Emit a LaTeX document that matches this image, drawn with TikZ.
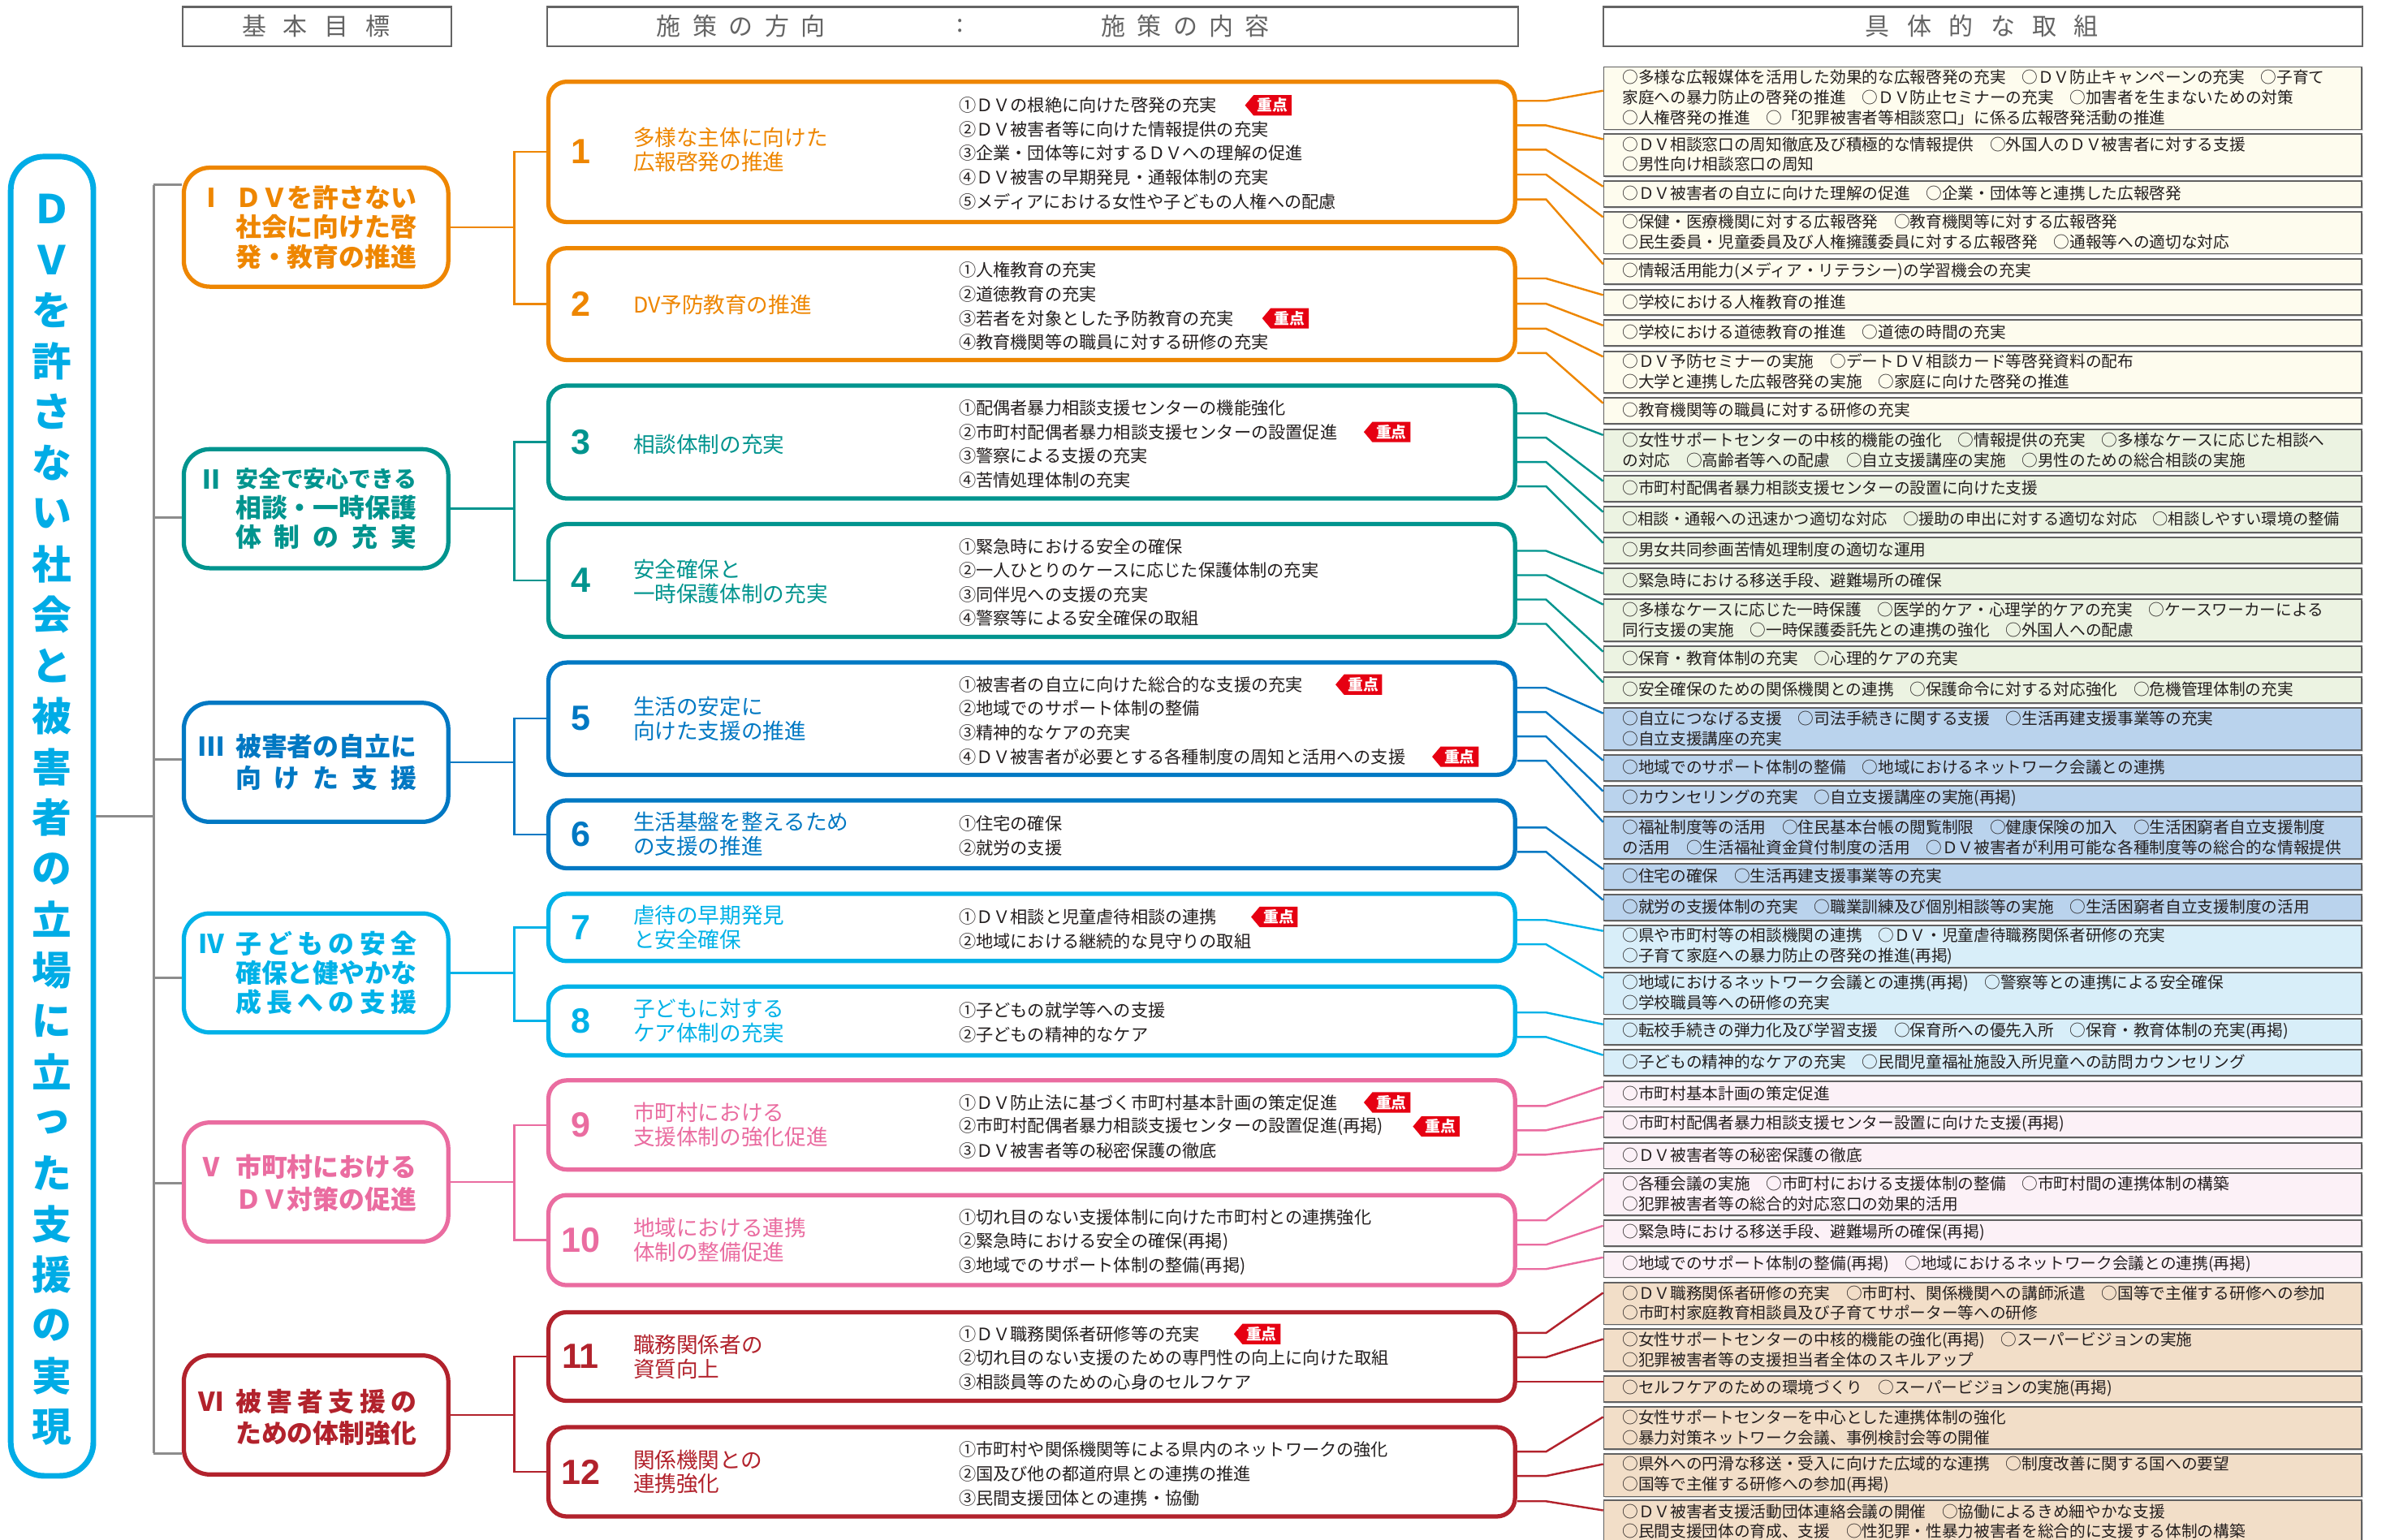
\documentclass[tikz,border=0pt]{standalone}
\usepackage{fontspec}
\setmainfont{Noto Sans CJK JP}
\newfontfamily\numfont{Liberation Sans}
\usetikzlibrary{shapes.symbols,shadows}
\definecolor{cO}{RGB}{238,134,0}
\definecolor{cT}{RGB}{0,148,142}
\definecolor{cB}{RGB}{0,120,195}
\definecolor{cC}{RGB}{0,178,232}
\definecolor{cP}{RGB}{234,108,160}
\definecolor{cR}{RGB}{178,34,44}
\definecolor{cMain}{RGB}{0,172,230}
\definecolor{fO}{RGB}{254,252,238}
\definecolor{fT}{RGB}{236,243,226}
\definecolor{fB}{RGB}{186,211,237}
\definecolor{fC}{RGB}{216,238,249}
\definecolor{fP}{RGB}{252,241,247}
\definecolor{fR}{RGB}{242,222,200}
\definecolor{jred}{RGB}{230,0,18}
\definecolor{hgray}{RGB}{100,100,100}
\definecolor{tgray}{RGB}{140,140,140}
\definecolor{txt}{RGB}{35,30,30}
\tikzset{
 hdr/.style={draw=hgray, line width=1.2pt, minimum height=26pt, inner sep=0pt, fill=white, anchor=north west},
 hdrtext/.style={text=hgray, font=\fontsize{16}{16}\selectfont, inner sep=0pt},
 mainbox/.style={draw=cMain, line width=3.7pt, rounded corners=22pt, fill=white, minimum width=54.3pt, minimum height=867pt, inner sep=0pt},
 vchar/.style={text=cMain, font=\bfseries\fontsize{26}{26}\selectfont, inner sep=0pt},
 gbox/.style={line width=2.8pt, rounded corners=17pt, fill=white, minimum width=173.8pt, minimum height=78.2pt, inner sep=0pt},
 gtext/.style={font=\bfseries\fontsize{17}{19.3}\selectfont, align=left, inner sep=0pt, anchor=west},
 gtext2/.style={font=\bfseries\fontsize{17}{21}\selectfont, align=left, inner sep=0pt, anchor=west},
 gnum/.style={font=\bfseries\fontsize{17}{17}\selectfont, inner sep=0pt},
 pbox/.style={line width=2.8pt, rounded corners=12pt, fill=white, minimum width=635.2pt, inner sep=0pt},
 pnum/.style={font=\numfont\bfseries\fontsize{23}{23}\selectfont, inner sep=0pt},
 ptitle/.style={font=\fontsize{14.2}{16}\selectfont, align=left, inner sep=0pt, anchor=west},
 item/.style={font=\fontsize{11.3}{11.3}\selectfont, text=txt, inner sep=0pt, anchor=west},
 badge/.style={shape=signal, signal to=west, signal pointer angle=100, fill=jred, text=white, font=\bfseries\fontsize{10}{10}\selectfont, inner xsep=2.5pt, inner ysep=1.2pt, minimum height=13.4pt, anchor=west},
 rowbox/.style={draw=black!62, line width=0.9pt, minimum width=498pt, inner sep=0pt, anchor=north west, drop shadow={shadow xshift=0.9pt, shadow yshift=-0.9pt, fill=black!28}},
 rowtext/.style={font=\fontsize{10.5}{13.3}\selectfont, text=txt, align=left, inner sep=0pt, anchor=west},
 gline/.style={draw=tgray, line width=1.6pt},
 conn/.style={line width=1.3pt},
}
\newcommand\rw[5]{\node[rowbox, fill=#4, minimum height=#3pt] (r#1) at (1053.5,#2) {};
  \node[rowtext] (t#1) at (1066,{#2+#3/2}) {#5};}
\newcommand\cn[5]{\draw[conn,#1] (#2.east |- 0,#3) -- ++(19,0) -- ([yshift=-#5pt]#4.north west);}
\begin{document}
\begin{tikzpicture}[x=1pt,y=-1pt]
\fill[white] (0,0) rectangle (1568,1012);
\useasboundingbox (0,0) rectangle (1568,1012);
% headers
\node[hdr, minimum width=176.6pt] (h1) at (119.4,3.9) {};
\node[hdrtext] (h1t) at (207.7,17) {基\hspace{11pt}本\hspace{11pt}目\hspace{11pt}標};
\node[hdr, minimum width=638pt] (h2) at (359,3.9) {};
\node[hdrtext] (h2a) at (487,17) {施\hspace{7.7pt}策\hspace{7.7pt}の\hspace{7.7pt}方\hspace{7.7pt}向};
\node[hdrtext] (h2b) at (631,17) {:};
\node[hdrtext] (h2c) at (779,17) {施\hspace{7.7pt}策\hspace{7.7pt}の\hspace{7.7pt}内\hspace{7.7pt}容};
\node[hdr, minimum width=499pt] (h3) at (1053,3.9) {};
\node[hdrtext] (h3t) at (1302.5,17) {具\hspace{11.4pt}体\hspace{11.4pt}的\hspace{11.4pt}な\hspace{11.4pt}取\hspace{11.4pt}組};
% main box
\node[mainbox] (main) at (34.2,536.4) {};
\foreach \c [count=\i] in {Ｄ,Ｖ,を,許,さ,な,い,社,会,と,被,害,者,の,立,場,に,立,っ,た,支,援,の,実,現}
  \node[vchar] (v\i) at (34.2,{137.3+(\i-1)*33.35}) {\c};
% goal boxes
\node[gbox, draw=cO] (gI) at (207.7,149.3) {};
\node[gbox, draw=cT] (gII) at (207.7,334.3) {};
\node[gbox, draw=cB] (gIII) at (207.7,501) {};
\node[gbox, draw=cC] (gIV) at (207.7,639.4) {};
\node[gbox, draw=cP] (gV) at (207.7,776.8) {};
\node[gbox, draw=cR] (gVI) at (207.7,929.9) {};
% gray tree
\coordinate (jG) at (101,0);
\draw[gline] (main.east) -- (jG |- main.east);
\draw[gline] (jG |- 0,121.6) -- (jG |- 0,955);
\draw[gline] (jG |- 0,121.6) -- (gI.west |- 0,121.6);
\draw[gline] (jG |- 0,340) -- (gII.west |- 0,340);
\draw[gline] (jG |- 0,499) -- (gIII.west |- 0,499);
\draw[gline] (jG |- 0,642.6) -- (gIV.west |- 0,642.6);
\draw[gline] (jG |- 0,777.6) -- (gV.west |- 0,777.6);
\draw[gline] (jG |- 0,955) -- (gVI.west |- 0,955);
% goal texts
\node[gnum, text=cO] (gnI) at (139,130) {Ⅰ};
\node[gtext, text=cO] (gtI) at (154.6,149.3) {ＤＶを許さない\\社会に向けた啓\\発・教育の推進};
\node[gnum, text=cT] (gnII) at (139,315) {Ⅱ};
\node[gtext, text=cT] (gtII) at (154.6,334.3) {\makebox[119pt][s]{{\fontsize{14.9}{19.3}\selectfont 安全で安心できる}}\\相談・一時保護\\\makebox[119pt][s]{体\hfill 制\hfill の\hfill 充\hfill 実}};
\node[gnum, text=cB] (gnIII) at (139,490.5) {Ⅲ};
\node[gtext2, text=cB] (gtIII) at (154.6,501) {被害者の自立に\\\makebox[119pt][s]{向\hfill け\hfill た\hfill 支\hfill 援}};
\node[gnum, text=cC] (gnIV) at (139,620.1) {Ⅳ};
\node[gtext, text=cC] (gtIV) at (154.6,639.4) {\makebox[119pt][s]{子\hfill ど\hfill も\hfill の\hfill 安\hfill 全}\\確保と健やかな\\\makebox[119pt][s]{成\hfill 長\hfill へ\hfill の\hfill 支\hfill 援}};
\node[gnum, text=cP] (gnV) at (139,767) {Ⅴ};
\node[gtext2, text=cP] (gtV) at (154.6,777.5) {市町村における\\ＤＶ対策の促進};
\node[gnum, text=cR] (gnVI) at (139,921) {Ⅵ};
\node[gtext2, text=cR] (gtVI) at (154.6,931.5) {\makebox[119pt][s]{被\hfill 害\hfill 者\hfill 支\hfill 援\hfill の}\\ための体制強化};
% policy boxes
\node[pbox, draw=cO, minimum height=92.2pt] (p1) at (678,99.8) {};
\node[pbox, draw=cO, minimum height=73.5pt] (p2) at (678,199.85) {};
\node[pbox, draw=cT, minimum height=74.2pt] (p3) at (678,290.5) {};
\node[pbox, draw=cT, minimum height=74.2pt] (p4) at (678,381.5) {};
\node[pbox, draw=cB, minimum height=73.8pt] (p5) at (678,472.3) {};
\node[pbox, draw=cB, minimum height=44.6pt] (p6) at (678,548.3) {};
\node[pbox, draw=cC, minimum height=44.2pt] (p7) at (678,609.5) {};
\node[pbox, draw=cC, minimum height=45.2pt] (p8) at (678,671) {};
\node[pbox, draw=cP, minimum height=58.6pt] (p9) at (678,739.3) {};
\node[pbox, draw=cP, minimum height=59.2pt] (p10) at (678,815) {};
\node[pbox, draw=cR, minimum height=58.2pt] (p11) at (678,891.5) {};
\node[pbox, draw=cR, minimum height=58.7pt] (p12) at (678,967.25) {};
% goal to policy connectors
\coordinate (jP) at (338,0);
\draw[conn,cO] (p1.west) -- (jP |- p1.west) -- (jP |- p2.west) -- (p2.west);
\draw[conn,cO] (gI.east) -- (jP |- gI.east);
\draw[conn,cT] (p3.west) -- (jP |- p3.west) -- (jP |- p4.west) -- (p4.west);
\draw[conn,cT] (gII.east) -- (jP |- gII.east);
\draw[conn,cB] (p5.west) -- (jP |- p5.west) -- (jP |- p6.west) -- (p6.west);
\draw[conn,cB] (gIII.east) -- (jP |- gIII.east);
\draw[conn,cC] (p7.west) -- (jP |- p7.west) -- (jP |- p8.west) -- (p8.west);
\draw[conn,cC] (gIV.east) -- (jP |- gIV.east);
\draw[conn,cP] (p9.west) -- (jP |- p9.west) -- (jP |- p10.west) -- (p10.west);
\draw[conn,cP] (gV.east) -- (jP |- gV.east);
\draw[conn,cR] (p11.west) -- (jP |- p11.west) -- (jP |- p12.west) -- (p12.west);
\draw[conn,cR] (gVI.east) -- (jP |- gVI.east);
% policy numbers and titles
\node[pnum, text=cO] (n1) at (381.5,99.8) {1};
\node[ptitle, text=cO] (pt1) at (416,98.5) {多様な主体に向けた\\広報啓発の推進};
\node[pnum, text=cO] (n2) at (381.5,199.85) {2};
\node[ptitle, text=cO] (pt2) at (416,200.5) {DV予防教育の推進};
\node[pnum, text=cT] (n3) at (381.5,290.5) {3};
\node[ptitle, text=cT] (pt3) at (416,292) {相談体制の充実};
\node[pnum, text=cT] (n4) at (381.5,381.5) {4};
\node[ptitle, text=cT] (pt4) at (416,382) {安全確保と\\一時保護体制の充実};
\node[pnum, text=cB] (n5) at (381.5,472.3) {5};
\node[ptitle, text=cB] (pt5) at (416,472.3) {生活の安定に\\向けた支援の推進};
\node[pnum, text=cB] (n6) at (381.5,548.3) {6};
\node[ptitle, text=cB] (pt6) at (416,548.3) {生活基盤を整えるため\\の支援の推進};
\node[pnum, text=cC] (n7) at (381.5,609.5) {7};
\node[ptitle, text=cC] (pt7) at (416,609.5) {虐待の早期発見\\と安全確保};
\node[pnum, text=cC] (n8) at (381.5,671) {8};
\node[ptitle, text=cC] (pt8) at (416,671) {子どもに対する\\ケア体制の充実};
\node[pnum, text=cP] (n9) at (381.5,739.3) {9};
\node[ptitle, text=cP] (pt9) at (416,739.3) {市町村における\\支援体制の強化促進};
\node[pnum, text=cP] (n10) at (381.5,815) {10};
\node[ptitle, text=cP] (pt10) at (416,815) {地域における連携\\体制の整備促進};
\node[pnum, text=cR] (n11) at (381.5,891.5) {11};
\node[ptitle, text=cR] (pt11) at (416,891.5) {職務関係者の\\資質向上};
\node[pnum, text=cR] (n12) at (381.5,967.25) {12};
\node[ptitle, text=cR] (pt12) at (416,967.25) {関係機関との\\連携強化};
% items
\foreach \t [count=\k] in {①ＤＶの根絶に向けた啓発の充実,②ＤＶ被害者等に向けた情報提供の充実,③企業・団体等に対するＤＶへの理解の促進,④ＤＶ被害の早期発見・通報体制の充実,⑤メディアにおける女性や子どもの人権への配慮}
  \node[item] (i1-\k) at (630,{100.8+(\k-3)*15.8}) {\t};
\foreach \t [count=\k] in {①人権教育の充実,②道徳教育の充実,③若者を対象とした予防教育の充実,④教育機関等の職員に対する研修の充実}
  \node[item] (i2-\k) at (630,{201.3+(\k-2.5)*15.8}) {\t};
\foreach \t [count=\k] in {①配偶者暴力相談支援センターの機能強化,②市町村配偶者暴力相談支援センターの設置促進,③警察による支援の充実,④苦情処理体制の充実}
  \node[item] (i3-\k) at (630,{291.8+(\k-2.5)*15.8}) {\t};
\foreach \t [count=\k] in {①緊急時における安全の確保,②一人ひとりのケースに応じた保護体制の充実,③同伴児への支援の充実,④警察等による安全確保の取組}
  \node[item] (i4-\k) at (630,{382.8+(\k-2.5)*15.8}) {\t};
\foreach \t [count=\k] in {①被害者の自立に向けた総合的な支援の充実,②地域でのサポート体制の整備,③精神的なケアの充実,④ＤＶ被害者が必要とする各種制度の周知と活用への支援}
  \node[item] (i5-\k) at (630,{473.6+(\k-2.5)*15.8}) {\t};
\foreach \t [count=\k] in {①住宅の確保,②就労の支援}
  \node[item] (i6-\k) at (630,{549.3+(\k-1.5)*15.8}) {\t};
\foreach \t [count=\k] in {①ＤＶ相談と児童虐待相談の連携,②地域における継続的な見守りの取組}
  \node[item] (i7-\k) at (630,{610.5+(\k-1.5)*15.8}) {\t};
\foreach \t [count=\k] in {①子どもの就学等への支援,②子どもの精神的なケア}
  \node[item] (i8-\k) at (630,{672+(\k-1.5)*15.8}) {\t};
\foreach \t [count=\k] in {①ＤＶ防止法に基づく市町村基本計画の策定促進,②市町村配偶者暴力相談支援センターの設置促進(再掲),③ＤＶ被害者等の秘密保護の徹底}
  \node[item] (i9-\k) at (630,{740.3+(\k-2)*15.8}) {\t};
\foreach \t [count=\k] in {①切れ目のない支援体制に向けた市町村との連携強化,②緊急時における安全の確保(再掲),③地域でのサポート体制の整備(再掲)}
  \node[item] (i10-\k) at (630,{816+(\k-2)*15.8}) {\t};
\foreach \t [count=\k] in {①ＤＶ職務関係者研修等の充実,②切れ目のない支援のための専門性の向上に向けた取組,③相談員等のための心身のセルフケア}
  \node[item] (i11-\k) at (630,{892.5+(\k-2)*15.8}) {\t};
\foreach \t [count=\k] in {①市町村や関係機関等による県内のネットワークの強化,②国及び他の都道府県との連携の推進,③民間支援団体との連携・協働}
  \node[item] (i12-\k) at (630,{968.5+(\k-2)*15.8}) {\t};
% badges
\node[badge] (b1) at ([xshift=18pt]i1-1.east) {重点};
\node[badge] (b2) at ([xshift=18pt]i2-3.east) {重点};
\node[badge] (b3) at ([xshift=17pt]i3-2.east) {重点};
\node[badge] (b4) at ([xshift=21pt]i5-1.east) {重点};
\node[badge] (b5) at ([xshift=17pt]i5-4.east) {重点};
\node[badge] (b6) at ([xshift=22pt]i7-1.east) {重点};
\node[badge] (b7) at ([xshift=17pt]i9-1.east) {重点};
\node[badge] (b8) at ([xshift=19pt]i9-2.east) {重点};
\node[badge] (b9) at ([xshift=22pt]i11-1.east) {重点};
% rows
\rw{1}{43.6}{41}{fO}{○多様な広報媒体を活用した効果的な広報啓発の充実　○ＤＶ防止キャンペーンの充実　○子育て\\家庭への暴力防止の啓発の推進　○ＤＶ防止セミナーの充実　○加害者を生まないための対策\\○人権啓発の推進　○「犯罪被害者等相談窓口」に係る広報啓発活動の推進}
\rw{2}{87.5}{27.8}{fO}{○ＤＶ相談窓口の周知徹底及び積極的な情報提供　○外国人のＤＶ被害者に対する支援\\○男性向け相談窓口の周知}
\rw{3}{118.6}{17}{fO}{○ＤＶ被害者の自立に向けた理解の促進　○企業・団体等と連携した広報啓発}
\rw{4}{138.7}{27.6}{fO}{○保健・医療機関に対する広報啓発　○教育機関等に対する広報啓発\\○民生委員・児童委員及び人権擁護委員に対する広報啓発　○通報等への適切な対応}
\rw{5}{169.6}{16.8}{fO}{○情報活用能力(メディア・リテラシー)の学習機会の充実}
\rw{6}{189.9}{16.8}{fO}{○学校における人権教育の推進}
\rw{7}{209.9}{17}{fO}{○学校における道徳教育の推進　○道徳の時間の充実}
\rw{8}{230.4}{27.5}{fO}{○ＤＶ予防セミナーの実施　○デートＤＶ相談カード等啓発資料の配布\\○大学と連携した広報啓発の実施　○家庭に向けた啓発の推進}
\rw{9}{261}{17}{fO}{○教育機関等の職員に対する研修の充実}
\rw{10}{281.9}{27.4}{fT}{○女性サポートセンターの中核的機能の強化　○情報提供の充実　○多様なケースに応じた相談へ\\の対応　○高齢者等への配慮　○自立支援講座の実施　○男性のための総合相談の実施}
\rw{11}{312.2}{17}{fT}{○市町村配偶者暴力相談支援センターの設置に向けた支援}
\rw{12}{332.5}{17}{fT}{{\fontsize{10.25}{13.3}\selectfont ○相談・通報への迅速かつ適切な対応　○援助の申出に対する適切な対応　○相談しやすい環境の整備}}
\rw{13}{352.8}{17}{fT}{○男女共同参画苦情処理制度の適切な運用}
\rw{14}{373}{17}{fT}{○緊急時における移送手段、避難場所の確保}
\rw{15}{393.3}{27.7}{fT}{○多様なケースに応じた一時保護　○医学的ケア・心理学的ケアの充実　○ケースワーカーによる\\同行支援の実施　○一時保護委託先との連携の強化　○外国人への配慮}
\rw{16}{424.3}{17}{fT}{○保育・教育体制の充実　○心理的ケアの充実}
\rw{17}{444.5}{17}{fT}{○安全確保のための関係機関との連携　○保護命令に対する対応強化　○危機管理体制の充実}
\rw{18}{464.8}{27.7}{fB}{○自立につなげる支援　○司法手続きに関する支援　○生活再建支援事業等の充実\\○自立支援講座の充実}
\rw{19}{495.8}{17}{fB}{○地域でのサポート体制の整備　○地域におけるネットワーク会議との連携}
\rw{20}{516}{17}{fB}{○カウンセリングの充実　○自立支援講座の実施(再掲)}
\rw{21}{536.3}{27.7}{fB}{○福祉制度等の活用　○住民基本台帳の閲覧制限　○健康保険の加入　○生活困窮者自立支援制度\\の活用　○生活福祉資金貸付制度の活用　○ＤＶ被害者が利用可能な各種制度等の総合的な情報提供}
\rw{22}{567.3}{17}{fB}{○住宅の確保　○生活再建支援事業等の充実}
\rw{23}{587.5}{17}{fB}{○就労の支援体制の充実　○職業訓練及び個別相談等の実施　○生活困窮者自立支援制度の活用}
\rw{24}{607.8}{27.7}{fC}{○県や市町村等の相談機関の連携　○ＤＶ・児童虐待職務関係者研修の充実\\○子育て家庭への暴力防止の啓発の推進(再掲)}
\rw{25}{638.7}{27.5}{fC}{○地域におけるネットワーク会議との連携(再掲)　○警察等との連携による安全確保\\○学校職員等への研修の充実}
\rw{26}{669.2}{17}{fC}{○転校手続きの弾力化及び学習支援　○保育所への優先入所　○保育・教育体制の充実(再掲)}
\rw{27}{689.4}{17}{fC}{○子どもの精神的なケアの充実　○民間児童福祉施設入所児童への訪問カウンセリング}
\rw{28}{710.2}{16.8}{fP}{○市町村基本計画の策定促進}
\rw{29}{730}{17}{fP}{○市町村配偶者暴力相談支援センター設置に向けた支援(再掲)}
\rw{30}{750.8}{16.8}{fP}{○ＤＶ被害者等の秘密保護の徹底}
\rw{31}{770.6}{27.7}{fP}{○各種会議の実施　○市町村における支援体制の整備　○市町村間の連携体制の構築\\○犯罪被害者等の総合的対応窓口の効果的活用}
\rw{32}{801.5}{17}{fP}{○緊急時における移送手段、避難場所の確保(再掲)}
\rw{33}{822.3}{16.8}{fP}{○地域でのサポート体制の整備(再掲)　○地域におけるネットワーク会議との連携(再掲)}
\rw{34}{842.6}{27.4}{fR}{○ＤＶ職務関係者研修の充実　○市町村、関係機関への講師派遣　○国等で主催する研修への参加\\○市町村家庭教育相談員及び子育てサポーター等への研修}
\rw{35}{873}{27.7}{fR}{○女性サポートセンターの中核的機能の強化(再掲)　○スーパービジョンの実施\\○犯罪被害者等の支援担当者全体のスキルアップ}
\rw{36}{904}{17}{fR}{○セルフケアのための環境づくり　○スーパービジョンの実施(再掲)}
\rw{37}{924.2}{27.8}{fR}{○女性サポートセンターを中心とした連携体制の強化\\○暴力対策ネットワーク会議、事例検討会等の開催}
\rw{38}{955.2}{27.8}{fR}{○県外への円滑な移送・受入に向けた広域的な連携　○制度改善に関する国への要望\\○国等で主催する研修への参加(再掲)}
\rw{39}{985.6}{28.5}{fR}{○ＤＶ被害者支援活動団体連絡会議の開催　○協働によるきめ細やかな支援\\○民間支援団体の育成、支援　○性犯罪・性暴力被害者を総合的に支援する体制の構築}
% connectors policy -> rows
\cn{cO}{p1}{66.3}{r1}{16}
\cn{cO}{p1}{82.4}{r2}{4}
\cn{cO}{p1}{98.4}{r3}{4}
\cn{cO}{p1}{114.7}{r4}{4}
\cn{cO}{p1}{131}{r5}{4}
\cn{cO}{p2}{183}{r6}{4}
\cn{cO}{p2}{199.6}{r7}{4}
\cn{cO}{p2}{216}{r8}{4}
\cn{cO}{p2}{232}{r9}{4}
\cn{cT}{p3}{271.6}{r10}{4}
\cn{cT}{p3}{287.6}{r11}{4}
\cn{cT}{p3}{303.6}{r12}{4}
\cn{cT}{p3}{319.6}{r13}{4}
\cn{cT}{p4}{362}{r14}{4}
\cn{cT}{p4}{378}{r15}{4}
\cn{cT}{p4}{394}{r16}{4}
\cn{cT}{p4}{410}{r17}{4}
\cn{cB}{p5}{452}{r18}{4}
\cn{cB}{p5}{468}{r19}{4}
\cn{cB}{p5}{484}{r20}{4}
\cn{cB}{p5}{500}{r21}{4}
\cn{cB}{p6}{543.8}{r22}{4}
\cn{cB}{p6}{559.8}{r23}{4}
\cn{cC}{p7}{604.6}{r24}{4}
\cn{cC}{p7}{620.6}{r25}{4}
\cn{cC}{p8}{665.4}{r26}{4}
\cn{cC}{p8}{681.5}{r27}{4}
\cn{cP}{p9}{726.8}{r28}{4}
\cn{cP}{p9}{742.8}{r29}{4}
\cn{cP}{p9}{758.8}{r30}{4}
\cn{cP}{p10}{802}{r31}{4}
\cn{cP}{p10}{818}{r32}{4}
\cn{cP}{p10}{834}{r33}{4}
\cn{cR}{p11}{876}{r34}{7}
\cn{cR}{p11}{892}{r35}{7}
\cn{cR}{p11}{908}{r36}{4}
\cn{cR}{p12}{954}{r37}{7}
\cn{cR}{p12}{970}{r38}{7}
\cn{cR}{p12}{986.6}{r39}{7}
\end{tikzpicture}
\end{document}
